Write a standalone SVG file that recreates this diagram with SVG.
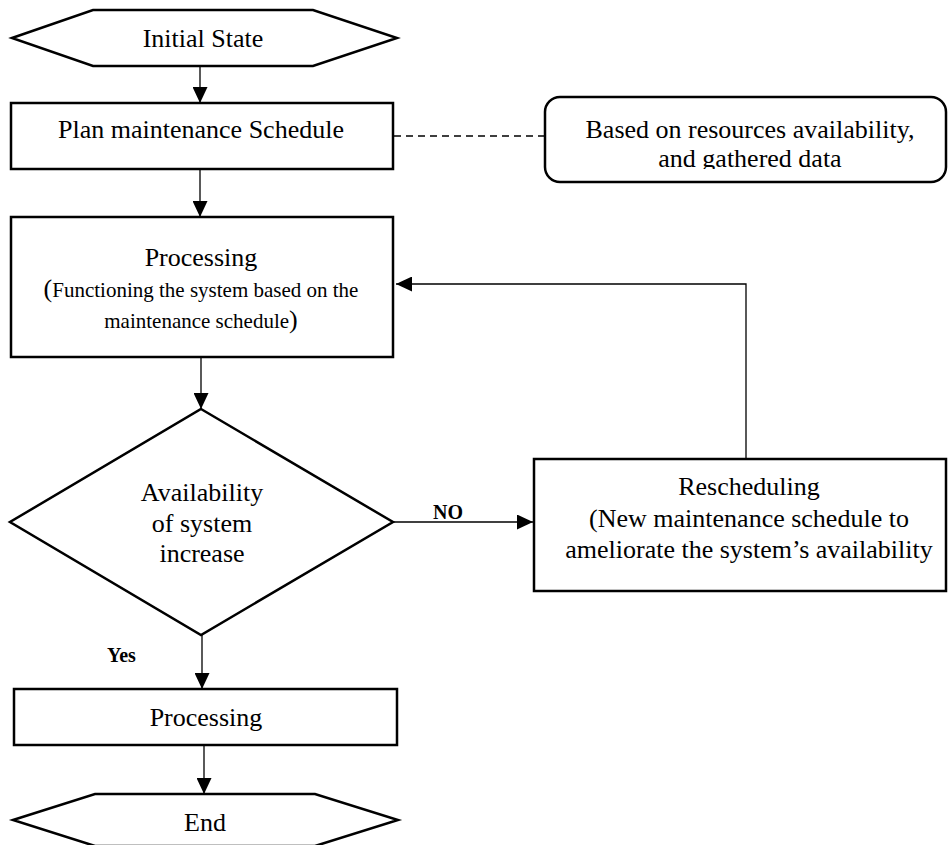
<svg xmlns="http://www.w3.org/2000/svg" width="949" height="845" viewBox="0 0 949 845">
  <style>
    .shape { fill: #ffffff; stroke: #000000; stroke-width: 2.5; stroke-linejoin: miter; }
    .label { font-family: "Liberation Serif", "Times New Roman", serif; font-size: 26px; fill: #000000; text-anchor: middle; }
    .small { font-size: 21px; }
    .bold { font-family: "Liberation Serif", "Times New Roman", serif; font-size: 20px; font-weight: bold; fill: #000000; }
    .link { fill: none; stroke: #000000; stroke-width: 1.3; }
    .dash { fill: none; stroke: #000000; stroke-width: 1.5; stroke-dasharray: 7 5; }
  </style>
  <defs>
    <marker id="arrow" markerUnits="userSpaceOnUse" markerWidth="16" markerHeight="15" refX="16" refY="7.5" orient="auto">
      <path d="M0,0 L16,7.5 L0,15 z" fill="#000000"/>
    </marker>
    <clipPath id="noteClip">
      <rect x="545" y="97" width="402" height="72"/>
    </clipPath>
  </defs>
  <rect width="949" height="845" fill="#ffffff"/>

  <!-- connectors -->
  <g id="connectors">
    <line class="link" x1="200" y1="66" x2="200" y2="103" marker-end="url(#arrow)"/>
    <line class="dash" x1="394" y1="136" x2="545" y2="136"/>
    <line class="link" x1="200" y1="169" x2="200" y2="217" marker-end="url(#arrow)"/>
    <line class="link" x1="201" y1="357" x2="201" y2="409" marker-end="url(#arrow)"/>
    <line class="link" x1="393" y1="522" x2="533" y2="522" marker-end="url(#arrow)"/>
    <polyline class="link" points="746,459 746,284 396,284" marker-end="url(#arrow)"/>
    <line class="link" x1="202" y1="635" x2="202" y2="689" marker-end="url(#arrow)"/>
    <line class="link" x1="204" y1="745" x2="204" y2="794" marker-end="url(#arrow)"/>
    <text class="bold" x="433" y="519">NO</text>
    <text class="bold" x="107" y="662">Yes</text>
  </g>

  <g id="initial-state">
    <polygon class="shape" points="12,38 93,10 313,10 397,38 313,66 93,66"/>
    <text class="label" x="203" y="47">Initial State</text>
  </g>

  <g id="plan-schedule">
    <rect class="shape" x="11" y="103" width="382" height="66"/>
    <text class="label" x="201" y="138">Plan maintenance Schedule</text>
  </g>

  <g id="note">
    <rect class="shape" x="545" y="97" width="401" height="85" rx="15" ry="15"/>
    <g clip-path="url(#noteClip)">
      <text class="label" x="750" y="138">Based on resources availability,</text>
      <text class="label" x="750" y="167">and gathered data</text>
    </g>
  </g>

  <g id="processing">
    <rect class="shape" x="11" y="217" width="382" height="140"/>
    <text class="label" x="201" y="266">Processing</text>
    <text class="label" x="201" y="297">(<tspan class="small">Functioning the system based on the</tspan></text>
    <text class="label" x="201" y="328"><tspan class="small">maintenance schedule</tspan>)</text>
  </g>

  <g id="decision">
    <polygon class="shape" points="201,409 393,522 201,635 10,522"/>
    <text class="label" x="202" y="501">Availability</text>
    <text class="label" x="202" y="532">of system</text>
    <text class="label" x="202" y="562">increase</text>
  </g>

  <g id="rescheduling">
    <rect class="shape" x="534" y="459" width="412" height="132"/>
    <text class="label" x="749" y="495">Rescheduling</text>
    <text class="label" x="749" y="527">(New maintenance schedule to</text>
    <text class="label" x="749" y="558">ameliorate the system’s availability</text>
  </g>

  <g id="processing-final">
    <rect class="shape" x="14" y="689" width="383" height="56"/>
    <text class="label" x="206" y="726">Processing</text>
  </g>

  <g id="end">
    <polygon class="shape" points="13,820 95,794 315,794 398,820 315,846 95,846"/>
    <text class="label" x="205" y="831">End</text>
  </g>
</svg>
